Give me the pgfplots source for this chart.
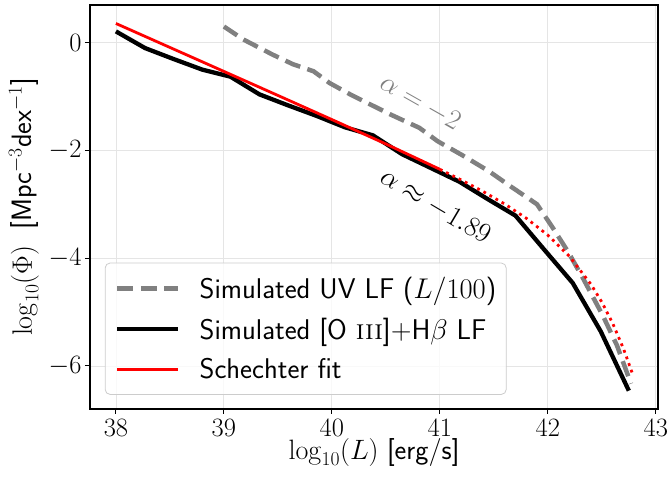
\RequirePackage{fix-cm}
\documentclass[border=0pt]{standalone}
\usepackage{pgfplots}
\pgfplotsset{compat=1.18}
\newcommand\fst{\fontsize{26.5}{32}\selectfont}
\newcommand\fsa{\fontsize{28}{33}\selectfont}
\newcommand\fsl{\fontsize{28.5}{34}\selectfont}
\newcommand\fsn{\fontsize{28}{33}\selectfont}
\begin{document}
\begin{tikzpicture}
\begin{axis}[
  scale only axis, width=568pt, height=404pt,
  xmin=37.76, xmax=43.02, ymin=-6.80, ymax=0.70,
  xtick={38,39,40,41,42,43}, ytick={-6,-4,-2,0},
  tick pos=left, tick align=outside,
  major tick length=5pt,
  tick style={black, line width=1pt},
  axis line style={black, line width=1.2pt},
  grid=major, major grid style={black!10, line width=0.8pt},
  ticklabel style={font=\fst},
  xticklabel style={yshift=-2pt},
  xlabel={$\log_{10}(L)$\ \textsf{[erg/s]}},
  ylabel={$\log_{10}(\Phi)$\ \ \textsf{[Mpc$^{-3}$dex$^{-1}$]}},
  label style={font=\fsa},
  xlabel style={yshift=5pt},
  ylabel style={yshift=3pt},
  legend cell align=left,
  legend style={at={(0.026,0.035)}, anchor=south west, draw=black!20,
    line width=0.8pt, rounded corners=5pt, fill=white, fill opacity=0.8, text opacity=1,
    font=\fsl\sffamily, inner xsep=10pt, inner ysep=14pt, row sep=18pt,
    nodes={inner sep=0pt}},
  legend image code/.code={\draw[#1] (0pt,0pt) -- (61pt,0pt); \path (80pt,0pt);},
]
\addplot[gray, line width=4.5pt, dash pattern=on 16pt off 7.5pt] coordinates {
(39.00,0.30) (39.18,0.06) (39.45,-0.22) (39.64,-0.40) (39.83,-0.53)
(39.98,-0.75) (40.17,-0.96) (40.54,-1.33) (40.81,-1.58) (40.98,-1.83)
(41.20,-2.08) (41.45,-2.38) (41.65,-2.66) (41.90,-3.00) (42.05,-3.45)
(42.19,-3.89) (42.33,-4.39) (42.51,-5.07) (42.64,-5.62) (42.77,-6.33)};
\addlegendentry{Simulated UV LF ($L/100$)}
\addplot[black, line width=4.3pt] coordinates {
(38.00,0.21) (38.27,-0.10) (38.53,-0.30) (38.80,-0.50) (39.06,-0.63)
(39.33,-0.96) (39.59,-1.16) (39.86,-1.36) (40.12,-1.57) (40.38,-1.72)
(40.65,-2.07) (40.91,-2.32) (41.18,-2.58) (41.44,-2.90) (41.70,-3.21)
(41.97,-3.85) (42.23,-4.46) (42.49,-5.36) (42.75,-6.46)};
\addlegendentry{Simulated [O \textrm{\textsc{iii}}]+H$\beta$ LF}
\addplot[red, line width=2.8pt] coordinates {
(38.0,0.357) (38.5,-0.088) (39.0,-0.533) (39.5,-0.979) (40.0,-1.427)
(40.5,-1.880) (41.0,-2.350)};
\addlegendentry{Schechter fit}
\addplot[red, line width=2.8pt, dash pattern=on 2.8pt off 4.2pt, forget plot] coordinates {
(41.0,-2.350) (41.2,-2.550) (41.4,-2.762) (41.6,-2.994) (41.8,-3.258)
(42.0,-3.573) (42.2,-3.967) (42.4,-4.488) (42.5,-4.817) (42.6,-5.208)
(42.7,-5.679) (42.78,-6.124)};
\node[rotate=-29.5, text=gray, font=\fsn] at (axis cs:40.82,-1.11) {$\alpha=-2$};
\node[rotate=-30.6, text=black, font=\fsn] at (axis cs:40.96,-3.04) {$\alpha\approx-1.89$};
\end{axis}
\pgfresetboundingbox
\path ([xshift=-90pt,yshift=-75pt]current axis.south west) rectangle ([xshift=10pt,yshift=5pt]current axis.north east);
\end{tikzpicture}
\end{document}
